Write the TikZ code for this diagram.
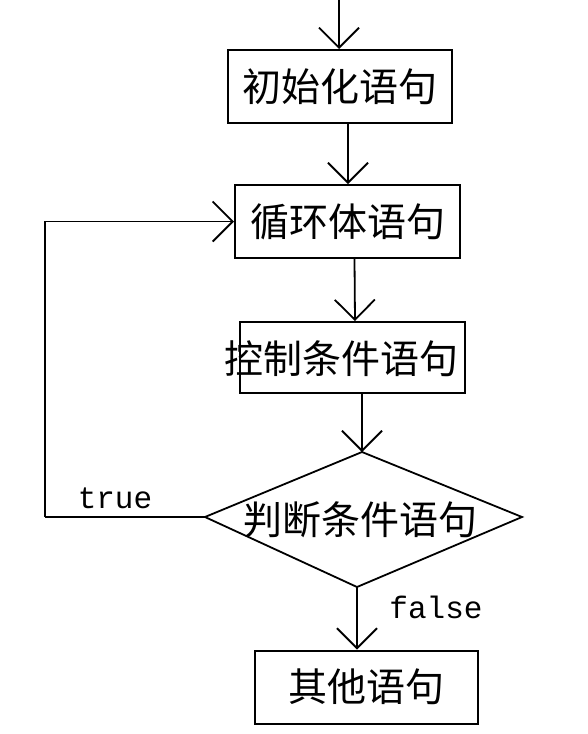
\documentclass[tikz,border=0pt]{standalone}
\usepackage{fontspec}
\newfontfamily\cjk{Noto Sans CJK SC}
\setmonofont{Liberation Mono}
\usetikzlibrary{arrows.meta,calc}
\begin{document}
\begin{tikzpicture}[x=1pt,y=-1pt,
  box/.style={draw,line width=2pt,inner sep=0pt,minimum width=224pt,minimum height=73pt,font=\cjk\fontsize{39}{40}\selectfont},
  txt/.style={inner sep=0pt,font=\cjk\fontsize{39}{40}\selectfont},
  lbl/.style={inner sep=0pt,font=\ttfamily\fontsize{31}{33}\selectfont},
  arr/.style={line width=1.8pt,-{Straight Barb[length=20pt,width=40pt,line width=1.8pt]}},
  ln/.style={line width=1.8pt}]
\useasboundingbox (0,0) rectangle (587,734);
\coordinate (top) at (339,-2);
\node[box] (b1) at (340,86.5) {初始化语句};
\node[box,minimum width=225pt] (b2) at (347.5,221.5) {循环体语句};
\node[box,minimum width=225pt,minimum height=71pt] (b3) at (352.5,357.5) {};
\node[txt] (t3) at (341,359) {控制条件语句};
\coordinate (dt) at (362,452);
\coordinate (dl) at (205,517);
\coordinate (dr) at (522,517);
\coordinate (db) at (357,587);
\draw[ln] (dt) -- (dr) -- (db) -- (dl) -- cycle;
\node[txt] (t4) at (360,520) {判断条件语句};
\node[box,minimum width=223pt] (b4) at (366,687) {其他语句};
\coordinate (lc) at (45,517);
\draw[arr] (top) -- (top |- b1.north);
\draw[arr] ($(b1.south)+(8,0)$) -- ($(b2.north)+(0.5,0)$);
\draw[arr] ($(b2.south)+(7,0)$) -- ($(b3.north)+(2.5,0)$);
\draw[arr] (b3.south -| dt) -- (dt);
\draw[arr] (db) -- (db |- b4.north);
\draw[ln] (dl) -- (lc);
\draw[arr] (lc) -- (lc |- b2.west) -- (b2.west);
\node[lbl] (tl) at (115,498) {true};
\node[lbl] (fl) at (436,607) {false};
\end{tikzpicture}
\end{document}
